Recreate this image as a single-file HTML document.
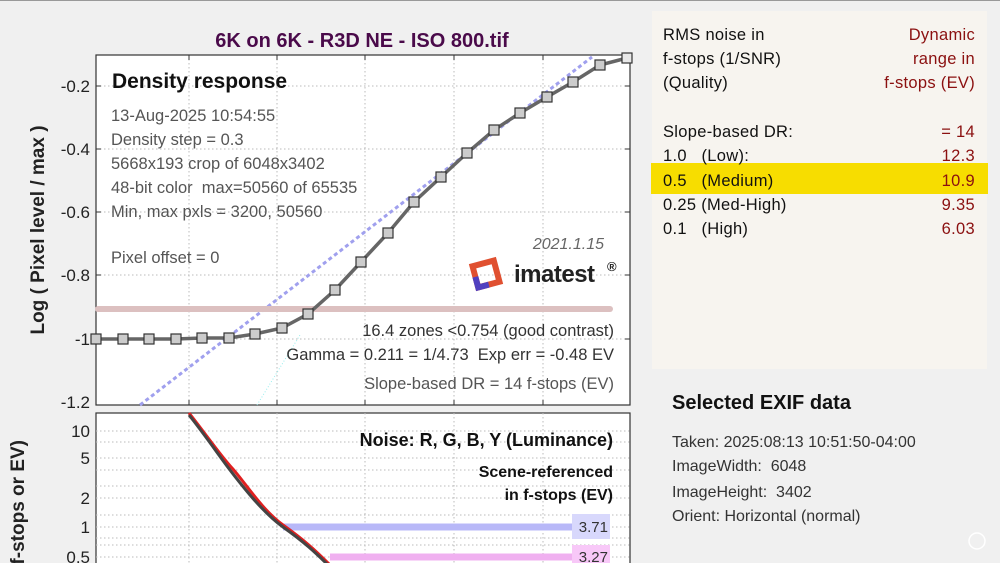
<!DOCTYPE html><html><head><style>body{margin:0;background:#f0f0f0}svg{display:block}text{font-family:"Liberation Sans",sans-serif;white-space:pre}</style></head><body>
<svg width="1000" height="563" viewBox="0 0 1000 563">
<rect width="1000" height="563" fill="#f0f0f0"/>
<line x1="0" y1="0.5" x2="1000" y2="0.5" stroke="#999"/>
<text x="362" y="47" font-size="20" font-weight="bold" fill="#4a0a4a" text-anchor="middle">6K on 6K - R3D NE - ISO 800.tif</text>
<rect x="96" y="55" width="534" height="350" fill="#fff" stroke="#333" stroke-width="1.2"/>
<g stroke="#bbb" stroke-dasharray="1.5,2.5">
<line x1="189" y1="55" x2="189" y2="405"/><line x1="277" y1="55" x2="277" y2="405"/><line x1="365" y1="55" x2="365" y2="405"/><line x1="454" y1="55" x2="454" y2="405"/><line x1="543" y1="55" x2="543" y2="405"/>
<line x1="96" y1="86" x2="630" y2="86"/><line x1="96" y1="149" x2="630" y2="149"/><line x1="96" y1="212" x2="630" y2="212"/><line x1="96" y1="275" x2="630" y2="275"/><line x1="96" y1="339" x2="630" y2="339"/>
</g>
<g stroke="#333"><line x1="96" y1="86" x2="101" y2="86"/><line x1="96" y1="149" x2="101" y2="149"/><line x1="96" y1="212" x2="101" y2="212"/><line x1="96" y1="275" x2="101" y2="275"/><line x1="96" y1="339" x2="101" y2="339"/>
<line x1="625" y1="86" x2="630" y2="86"/><line x1="625" y1="149" x2="630" y2="149"/><line x1="625" y1="212" x2="630" y2="212"/><line x1="625" y1="275" x2="630" y2="275"/><line x1="625" y1="339" x2="630" y2="339"/>
<line x1="189" y1="55" x2="189" y2="60"/><line x1="277" y1="55" x2="277" y2="60"/><line x1="365" y1="55" x2="365" y2="60"/><line x1="454" y1="55" x2="454" y2="60"/><line x1="543" y1="55" x2="543" y2="60"/>
<line x1="189" y1="400" x2="189" y2="405"/><line x1="277" y1="400" x2="277" y2="405"/><line x1="365" y1="400" x2="365" y2="405"/><line x1="454" y1="400" x2="454" y2="405"/><line x1="543" y1="400" x2="543" y2="405"/></g>
<g font-size="17" fill="#222" text-anchor="end"><text x="90" y="92">-0.2</text><text x="90" y="155">-0.4</text><text x="90" y="218">-0.6</text><text x="90" y="281">-0.8</text><text x="90" y="345">-1</text><text x="90" y="408">-1.2</text></g>
<text transform="translate(44,230) rotate(-90)" font-size="19" font-weight="bold" fill="#222" text-anchor="middle">Log ( Pixel level / max )</text>
<line x1="140" y1="405" x2="592" y2="57" stroke="#a0a0ee" stroke-width="3" stroke-dasharray="4,3"/>
<line x1="257" y1="405" x2="300" y2="335" stroke="#9ee" stroke-width="1" stroke-dasharray="1,2"/>
<line x1="98" y1="309" x2="610" y2="309" stroke="#dcc0c0" stroke-width="6" stroke-linecap="round"/>
<polyline fill="none" stroke="#666" stroke-width="3.5" points="96,339 123,339 149,339 176,339 202,338 229,338 255,334 282,328 308,314 335,290 361,262 388,233 414,202 441,177 467,153 494,130 520,113 547,97 573,82 600,65 627,58"/>
<g fill="#ccc" stroke="#333" stroke-width="1.2">
<rect x="91" y="334" width="10" height="10"/><rect x="118" y="334" width="10" height="10"/><rect x="144" y="334" width="10" height="10"/><rect x="171" y="334" width="10" height="10"/><rect x="197" y="333" width="10" height="10"/><rect x="224" y="333" width="10" height="10"/><rect x="250" y="329" width="10" height="10"/><rect x="277" y="323" width="10" height="10"/><rect x="303" y="309" width="10" height="10"/><rect x="330" y="285" width="10" height="10"/><rect x="356" y="257" width="10" height="10"/><rect x="383" y="228" width="10" height="10"/><rect x="409" y="197" width="10" height="10"/><rect x="436" y="172" width="10" height="10"/><rect x="462" y="148" width="10" height="10"/><rect x="489" y="125" width="10" height="10"/><rect x="515" y="108" width="10" height="10"/><rect x="542" y="92" width="10" height="10"/><rect x="568" y="77" width="10" height="10"/><rect x="595" y="60" width="10" height="10"/><rect x="622" y="53" width="10" height="10" fill="#e8e8e8"/></g>
<text x="112" y="88" font-size="21" font-weight="bold" fill="#111">Density response</text>
<g font-size="16.5" fill="#555"><text x="111" y="121">13-Aug-2025 10:54:55</text><text x="111" y="145">Density step = 0.3</text><text x="111" y="169">5668x193 crop of 6048x3402</text><text x="111" y="193">48-bit color  max=50560 of 65535</text><text x="111" y="217">Min, max pxls = 3200, 50560</text><text x="111" y="263">Pixel offset = 0</text></g>
<g font-size="16.5" fill="#333" text-anchor="end"><text x="614" y="336">16.4 zones &lt;0.754 (good contrast)</text><text x="614" y="360">Gamma = 0.211 = 1/4.73  Exp err = -0.48 EV</text><text x="614" y="389" fill="#555">Slope-based DR = 14 f-stops (EV)</text></g>
<text x="604" y="249" font-size="16" font-style="italic" fill="#666" text-anchor="end">2021.1.15</text>
<g transform="translate(486,274) rotate(-15)"><rect x="-11" y="-11" width="22" height="22" fill="none" stroke="#e05030" stroke-width="6"/><path d="M-11,0 L-11,11 L0,11" fill="none" stroke="#5040c0" stroke-width="6"/></g>
<text x="514" y="282" font-size="24" font-weight="bold" fill="#222" letter-spacing="-0.5">imatest</text>
<text x="607" y="271" font-size="13" font-weight="bold" fill="#222">®</text>
<rect x="96" y="413" width="534" height="160" fill="#fff" stroke="#333" stroke-width="1.2"/>
<g stroke="#bbb" stroke-dasharray="1.5,2.5">
<line x1="189" y1="413" x2="189" y2="563"/><line x1="277" y1="413" x2="277" y2="563"/><line x1="365" y1="413" x2="365" y2="563"/><line x1="454" y1="413" x2="454" y2="563"/><line x1="543" y1="413" x2="543" y2="563"/>
<line x1="96" y1="431" x2="630" y2="431"/><line x1="96" y1="442" x2="630" y2="442"/><line x1="96" y1="458" x2="630" y2="458"/><line x1="96" y1="470" x2="630" y2="470"/><line x1="96" y1="486" x2="630" y2="486"/><line x1="96" y1="498" x2="630" y2="498"/><line x1="96" y1="515" x2="630" y2="515"/><line x1="96" y1="527" x2="630" y2="527"/><line x1="96" y1="538" x2="630" y2="538"/><line x1="96" y1="545" x2="630" y2="545"/><line x1="96" y1="557" x2="630" y2="557"/></g>
<g font-size="17" fill="#222" text-anchor="end"><text x="90" y="437">10</text><text x="90" y="464">5</text><text x="90" y="504">2</text><text x="90" y="533">1</text><text x="90" y="563">0.5</text></g>
<text transform="translate(24,440) rotate(-90)" font-size="19" font-weight="bold" fill="#222" text-anchor="end">f-stops or EV)</text>
<line x1="283" y1="527" x2="610" y2="527" stroke="#b8b8f8" stroke-width="7"/>
<line x1="330" y1="557" x2="610" y2="557" stroke="#f0b0f0" stroke-width="7"/>
<rect x="572" y="514" width="38" height="25" fill="#d8d8fc"/><rect x="572" y="545" width="38" height="20" fill="#f8c8f8"/>
<g font-size="15" fill="#333" text-anchor="end"><text x="608" y="532">3.71</text><text x="608" y="562">3.27</text></g>
<path d="M189,413 C205,433 220,455 232,468 S262,510 283,525 S315,550 330,565" fill="none" stroke="#e02020" stroke-width="3"/>
<path d="M189,415 C205,435 220,457 230,470 S262,512 283,527 S315,552 330,567" fill="none" stroke="#444" stroke-width="3"/>
<text x="613" y="446" font-size="18" font-weight="bold" fill="#111" text-anchor="end">Noise: R, G, B, Y (Luminance)</text>
<g font-size="16" font-weight="bold" fill="#111" text-anchor="end"><text x="613" y="477">Scene-referenced</text><text x="613" y="500">in f-stops (EV)</text></g>
<rect x="652" y="11" width="335" height="358" fill="#f7f4ef"/>
<rect x="651" y="163" width="337" height="31" fill="#f7dd00"/>
<g font-size="16.5" fill="#111" letter-spacing="0.3"><text x="663" y="40">RMS noise in</text><text x="663" y="64">f-stops (1/SNR)</text><text x="663" y="88">(Quality)</text><text x="663" y="137">Slope-based DR:</text><text x="663" y="161">1.0   (Low):</text><text x="663" y="186">0.5   (Medium)</text><text x="663" y="210">0.25 (Med-High)</text><text x="663" y="234">0.1   (High)</text></g>
<g font-size="16.5" fill="#8b1010" text-anchor="end" letter-spacing="0.3"><text x="975" y="40">Dynamic</text><text x="975" y="64">range in</text><text x="975" y="88">f-stops (EV)</text><text x="975" y="137">= 14</text><text x="975" y="161">12.3</text><text x="975" y="186">10.9</text><text x="975" y="210">9.35</text><text x="975" y="234">6.03</text></g>
<text x="672" y="409" font-size="20" font-weight="bold" fill="#111">Selected EXIF data</text>
<g font-size="16" fill="#333"><text x="672" y="447">Taken: 2025:08:13 10:51:50-04:00</text><text x="672" y="471">ImageWidth:  6048</text><text x="672" y="497">ImageHeight:  3402</text><text x="672" y="521">Orient: Horizontal (normal)</text></g>
<circle cx="977" cy="541" r="8" fill="none" stroke="#fff" stroke-width="1.5"/>
</svg></body></html>
